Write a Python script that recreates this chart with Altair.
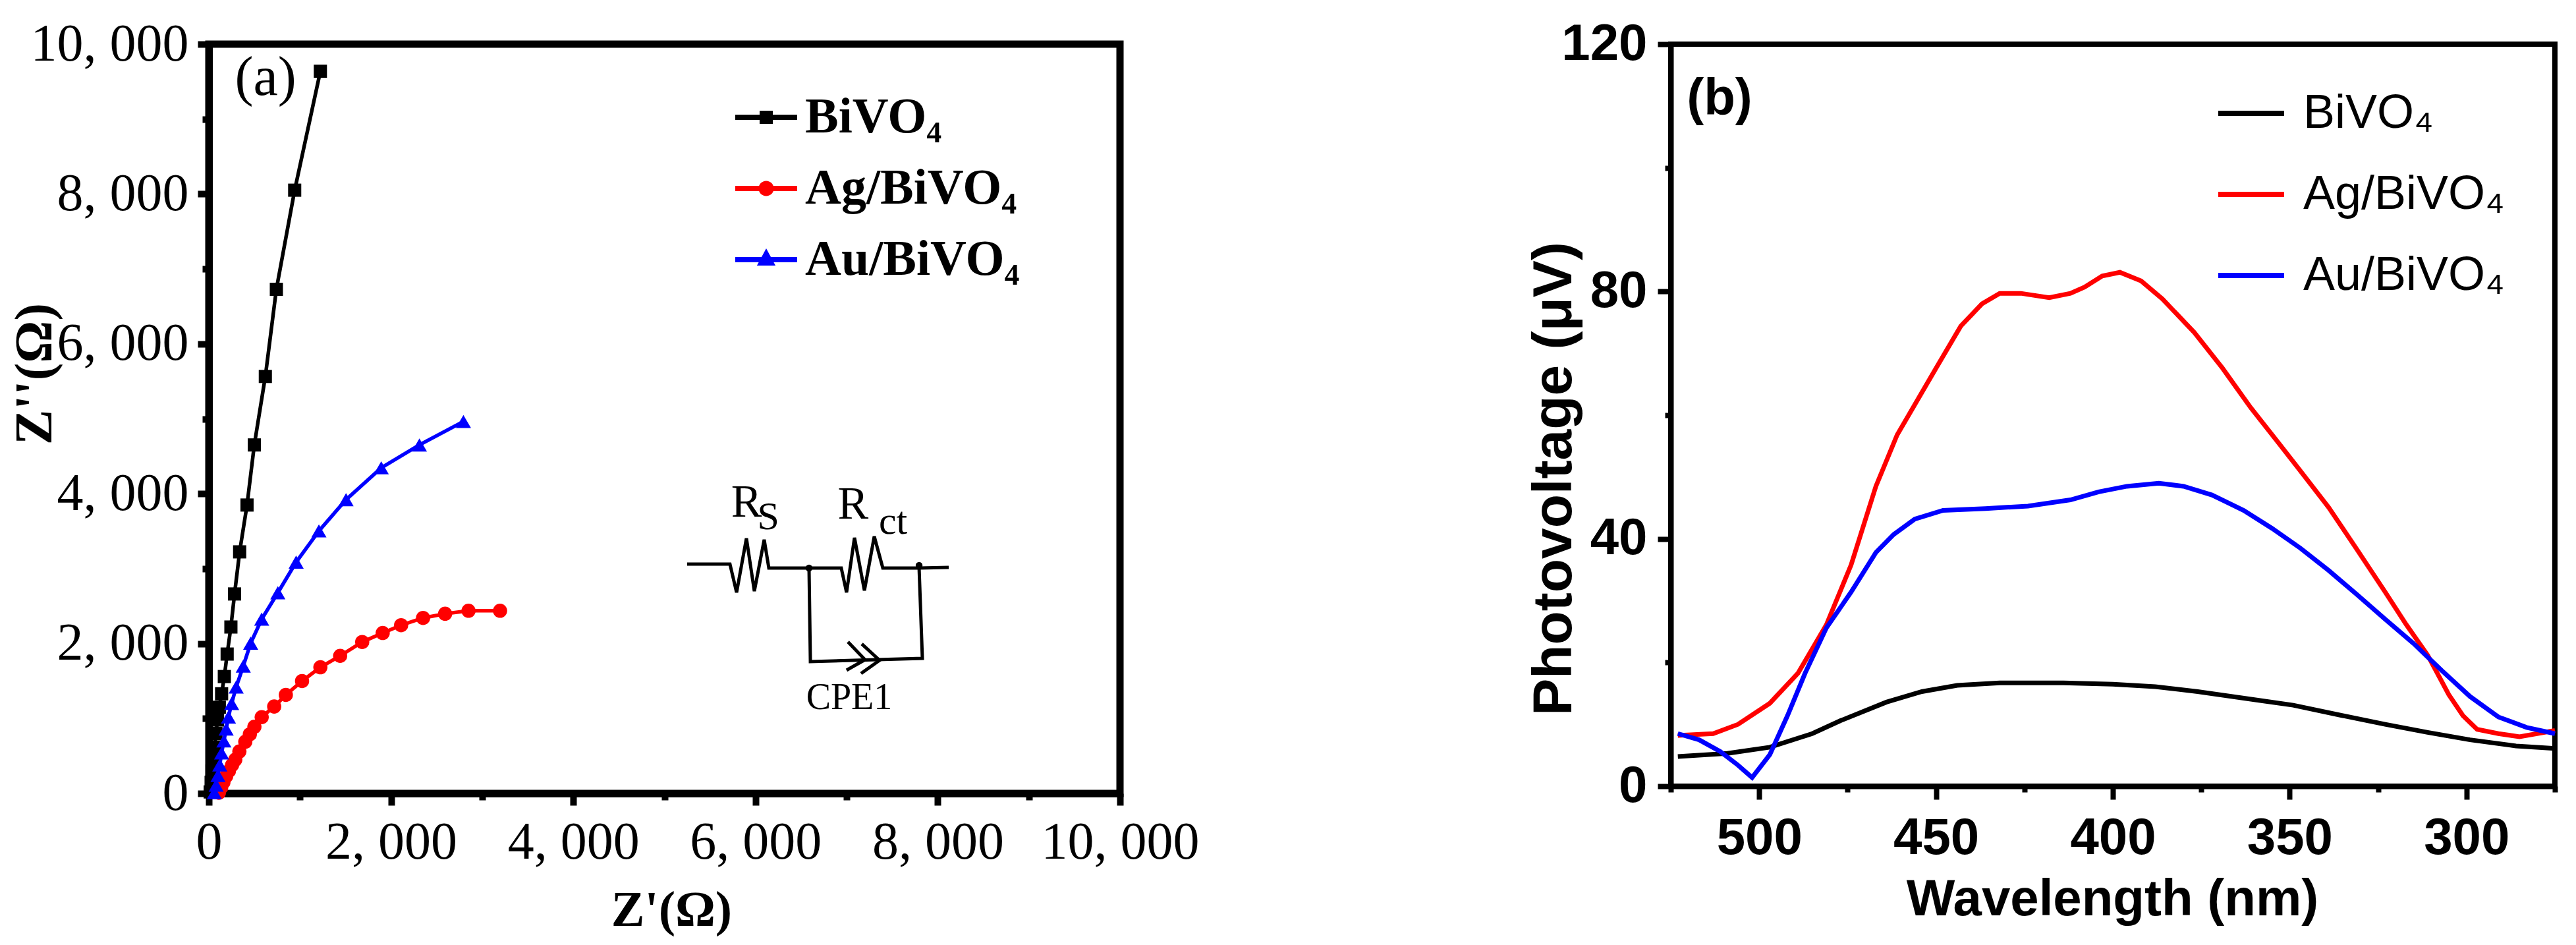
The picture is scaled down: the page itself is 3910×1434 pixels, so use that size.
import altair as alt
import pandas as pd

# ---------------- Panel (a): Nyquist plots (ohm) ----------------
series_names = ["BiVO₄", "Ag/BiVO₄", "Au/BiVO₄"]
series_colors = ["#000000", "#FF0000", "#0000FF"]

bivo4_zre = [15, 25, 35, 48, 62, 78, 95, 115, 140, 170, 201, 242, 282, 338, 419, 499, 620, 741, 942, 1224]
bivo4_zim = [20, 150, 300, 460, 620, 800, 980, 1150, 1330, 1560, 1860, 2221, 2662, 3224, 3849, 4651, 5565, 6728, 8051, 9639]

ag_zre = [110, 135, 160, 190, 220, 255, 290, 335, 400, 450, 500, 580, 717, 845, 1023, 1224, 1441, 1683, 1908, 2110, 2351, 2593, 2850, 3196]
ag_zim = [10, 80, 150, 230, 300, 380, 450, 560, 690, 790, 890, 1018, 1160, 1315, 1500, 1684, 1836, 2021, 2141, 2245, 2342, 2398, 2438, 2438]

au_zre = [60, 80, 100, 120, 140, 165, 190, 215, 250, 300, 378, 459, 580, 757, 958, 1208, 1506, 1892, 2311, 2794]
au_zim = [10, 110, 240, 380, 540, 700, 860, 1020, 1200, 1420, 1700, 2005, 2326, 2678, 3087, 3504, 3921, 4346, 4651, 4964]

x_ticks_a = list(range(0, 10001, 1000))
y_ticks_a = list(range(0, 10001, 1000))

# equivalent-circuit inset, drawn in data units (ohm)
circuit_part = ["main"] * 16 + ["branch"] * 4 + ["chev1"] * 3 + ["chev2"] * 3
circuit_x = [5249, 5719, 5792, 5900, 5987, 6095, 6146, 6587, 6941, 6999, 7086, 7195, 7303, 7397, 7795, 8120,
             6587, 6602, 7831, 7795,
             7014, 7202, 6999,
             7166, 7361, 7158]
circuit_y = [3061, 3061, 2683, 3404, 2700, 3386, 3008, 3008, 3008, 2683, 3412, 2709, 3430, 3008, 3008, 3017,
             3008, 1759, 1803, 3008,
             2023, 1785, 1645,
             1996, 1777, 1601]
node_x = [6587, 7795]
node_y = [3008, 3043]
circuit_text = ["R", "S", "R", "ct", "CPE1"]
circuit_text_x = [5900, 6140, 7070, 7510, 7028]
circuit_text_y = [3694, 3527, 3668, 3465, 1126]
circuit_text_size = [70, 60, 70, 60, 56]

# panel label positions (data units)
label_a = ["(a)"]
label_a_x = [285]
label_a_y = [9323]
label_b = ["(b)"]
label_b_x = [520.5]
label_b_y = [108.6]

# ---------------- Panel (b): surface photovoltage ----------------
bivo4_wl = [523, 509, 497, 485, 477, 464, 454, 444, 432, 414, 400, 388, 376, 359, 349, 335, 323, 311, 299, 286, 275]
bivo4_pv = [4.8, 5.3, 6.3, 8.5, 10.6, 13.6, 15.3, 16.3, 16.7, 16.7, 16.5, 16.1, 15.3, 13.9, 13.1, 11.4, 10.0, 8.7, 7.5, 6.5, 6.1]

ag_wl = [523, 513, 506, 497, 489, 481, 474, 467, 461, 456, 450, 443, 437, 432, 426, 418, 412, 408, 403, 398,
         392, 386, 377, 369, 361, 353, 347, 339, 331, 323, 317, 311, 305, 301, 297, 291, 285, 275]
ag_pv = [8.2, 8.5, 10.0, 13.4, 18.3, 26.1, 35.8, 48.5, 56.8, 61.7, 67.6, 74.4, 78.0, 79.7, 79.7, 79.0, 79.7, 80.7, 82.5, 83.1,
         81.7, 78.8, 73.4, 67.6, 61.2, 55.4, 51.0, 45.1, 38.3, 31.4, 26.1, 21.2, 14.8, 11.4, 9.2, 8.5, 8.0, 9.0]

au_wl = [523, 517, 511, 506, 502, 497, 492, 487, 481, 474, 467, 462, 456, 448, 436, 424, 412, 404, 396, 387,
         380, 372, 363, 355, 347, 339, 331, 323, 315, 307, 299, 291, 283, 275]
au_pv = [8.5, 7.5, 5.6, 3.4, 1.4, 5.1, 11.4, 18.3, 25.6, 31.4, 37.8, 40.7, 43.2, 44.6, 44.9, 45.3, 46.3, 47.6, 48.5, 49.0,
         48.5, 47.1, 44.6, 41.7, 38.5, 34.9, 31.0, 27.0, 23.1, 18.7, 14.5, 11.2, 9.5, 8.5]

x_ticks_b = list(range(275, 526, 25))
y_ticks_b = list(range(0, 121, 20))

# ---------------- tables ----------------
rows = []
for name, xs, ys in zip(series_names, [bivo4_zre, ag_zre, au_zre], [bivo4_zim, ag_zim, au_zim]):
    for i, (xv, yv) in enumerate(zip(xs, ys)):
        rows.append({"series": name, "zre": xv, "zim": yv, "seq": i})
df_a = pd.DataFrame(rows)

df_circ = pd.DataFrame({"part": circuit_part, "x": circuit_x, "y": circuit_y,
                        "seq": list(range(len(circuit_x)))})
df_nodes = pd.DataFrame({"x": node_x, "y": node_y})
df_ctext = pd.DataFrame({"t": circuit_text, "x": circuit_text_x, "y": circuit_text_y, "fs": circuit_text_size})
df_leg = pd.DataFrame({"series": series_names})
df_la = pd.DataFrame({"t": label_a, "x": label_a_x, "y": label_a_y})
df_lb = pd.DataFrame({"t": label_b, "x": label_b_x, "y": label_b_y})

rows = []
for name, xs, ys in zip(series_names, [bivo4_wl, ag_wl, au_wl], [bivo4_pv, ag_pv, au_pv]):
    for i, (xv, yv) in enumerate(zip(xs, ys)):
        rows.append({"series": name, "wl": xv, "pv": yv, "seq": i})
df_b = pd.DataFrame(rows)

SERIF = "Liberation Serif"
SANS = "Liberation Sans"

# ---------------- Panel (a) chart ----------------
color_a = alt.Color("series:N", scale=alt.Scale(domain=series_names, range=series_colors), legend=None)

xax_a = alt.Axis(
    values=x_ticks_a,
    labelExpr="datum.value % 2000 === 0 ? replace(format(datum.value, ','), ',', ', ') : ''",
    tickSize={"condition": {"test": "datum.value % 2000 === 0", "value": 18}, "value": 10},
    tickWidth=10, tickColor="black", domainColor="black", domainWidth=11, grid=False,
    labelFont=SERIF, labelFontSize=80, labelColor="black", labelPadding=17, labelLimit=600,
    labelFlush=False, labelOverlap=False,
    title="Z'(Ω)", titleFont=SERIF, titleFontSize=76, titleFontWeight="bold", titleColor="black",
    titleX=702, titleY=200, titleBaseline="alphabetic", titleAlign="center",
)
yax_a = alt.Axis(
    values=y_ticks_a,
    labelExpr="datum.value % 2000 === 0 ? replace(format(datum.value, ','), ',', ', ') : ''",
    tickSize={"condition": {"test": "datum.value % 2000 === 0", "value": 17}, "value": 10},
    tickWidth=10, tickColor="black", domainColor="black", domainWidth=11, grid=False,
    labelFont=SERIF, labelFontSize=80, labelColor="black", labelPadding=14, labelLimit=600,
    labelFlush=False, labelOverlap=False,
    title="Z''(Ω)", titleFont=SERIF, titleFontSize=80, titleFontWeight="bold", titleColor="black",
    titleX=-240, titleY=500, titleBaseline="alphabetic", titleAlign="center", titleAngle=-90,
)
xs_a = alt.Scale(domain=[0, 10000], nice=False, zero=False)
ys_a = alt.Scale(domain=[0, 10000], nice=False, zero=False)

base_a = alt.Chart(df_a).encode(
    x=alt.X("zre:Q", scale=xs_a, axis=xax_a),
    y=alt.Y("zim:Q", scale=ys_a, axis=yax_a),
    color=color_a,
)
lines_a = base_a.mark_line(strokeWidth=5.5).encode(order="seq:Q")
points_a = base_a.mark_point(filled=True, opacity=1).encode(
    shape=alt.Shape("series:N", scale=alt.Scale(domain=series_names, range=["square", "circle", "triangle-up"]), legend=None),
    size=alt.Size("series:N", scale=alt.Scale(domain=series_names, range=[400, 529, 650]), legend=None),
)

legend_paths = [
    "M-1,-0.085H1V0.085H-1Z M-0.213,-0.213H0.213V0.213H-0.213Z",
    "M-1,-0.085H1V0.085H-1Z M0.245,0A0.245,0.245,0,1,1,-0.245,0A0.245,0.245,0,1,1,0.245,0Z",
    "M-1,-0.085H1V0.085H-1Z M0,-0.36L0.3,0.19L-0.3,0.19Z",
]
leg_a_props = dict(orient="none", legendX=799, legendY=64, title=None,
                   symbolSize=8836, symbolStrokeWidth=0, symbolOpacity=1,
                   labelFont=SERIF, labelFontWeight="bold", labelFontSize=76,
                   labelColor="black", labelOffset=12, rowPadding=23, padding=0,
                   labelLimit=0)
legend_a = alt.Chart(df_leg).transform_filter("false").mark_point(filled=True, opacity=1).encode(
    color=alt.Color("series:N", scale=alt.Scale(domain=series_names, range=series_colors),
                    legend=alt.Legend(**leg_a_props)),
    shape=alt.Shape("series:N", scale=alt.Scale(domain=series_names, range=legend_paths),
                    legend=alt.Legend(**leg_a_props)),
)

circ_lines = alt.Chart(df_circ).mark_line(color="black", strokeWidth=5).encode(
    x=alt.X("x:Q", scale=xs_a), y=alt.Y("y:Q", scale=ys_a), detail="part:N", order="seq:Q")
circ_nodes = alt.Chart(df_nodes).mark_point(filled=True, color="black", size=110, opacity=1, shape="circle").encode(
    x=alt.X("x:Q", scale=xs_a), y=alt.Y("y:Q", scale=ys_a))
circ_text = alt.Chart(df_ctext).mark_text(font=SERIF, color="black", align="center", baseline="alphabetic").encode(
    x=alt.X("x:Q", scale=xs_a), y=alt.Y("y:Q", scale=ys_a), text="t:N",
    size=alt.Size("fs:Q", scale=None, legend=None))
panel_label_a = alt.Chart(df_la).mark_text(font=SERIF, fontSize=84, color="black", align="left",
                                           baseline="alphabetic").encode(
    x=alt.X("x:Q", scale=xs_a), y=alt.Y("y:Q", scale=ys_a), text="t:N")

panel_a = alt.layer(lines_a, points_a, circ_lines, circ_nodes, circ_text, panel_label_a, legend_a).resolve_scale(
    color="independent", shape="independent", size="independent"
).properties(
    width=1383, height=1137,
    view=alt.ViewBackground(stroke="black", strokeWidth=11, fill="white"),
)

# ---------------- Panel (b) chart ----------------
xs_b = alt.Scale(domain=[275, 525], reverse=True, nice=False, zero=False)
ys_b = alt.Scale(domain=[0, 120], nice=False, zero=False)
xax_b = alt.Axis(
    values=x_ticks_b,
    labelExpr="datum.value % 50 === 0 ? datum.label : ''",
    tickSize={"condition": {"test": "datum.value % 50 === 0", "value": 20}, "value": 9},
    tickWidth=8, tickColor="black", domainColor="black", domainWidth=8, grid=False,
    labelFont=SANS, labelFontWeight="bold", labelFontSize=78, labelColor="black", labelPadding=20,
    labelFlush=False, labelOverlap=False,
    title="Wavelength (nm)", titleFont=SANS, titleFontSize=78, titleFontWeight="bold", titleColor="black",
    titleX=670, titleY=195, titleBaseline="alphabetic", titleAlign="center",
)
yax_b = alt.Axis(
    values=y_ticks_b,
    labelExpr="datum.value % 40 === 0 ? datum.label : ''",
    tickSize={"condition": {"test": "datum.value % 40 === 0", "value": 20}, "value": 9},
    tickWidth=8, tickColor="black", domainColor="black", domainWidth=8, grid=False,
    labelFont=SANS, labelFontWeight="bold", labelFontSize=78, labelColor="black", labelPadding=16,
    labelFlush=False, labelOverlap=False,
    title="Photovoltage (μV)", titleFont=SANS, titleFontSize=84, titleFontWeight="bold", titleColor="black",
    titleX=-152, titleY=659, titleBaseline="alphabetic", titleAlign="center", titleAngle=-90,
)
lines_b = alt.Chart(df_b).mark_line(strokeWidth=7).encode(
    x=alt.X("wl:Q", scale=xs_b, axis=xax_b),
    y=alt.Y("pv:Q", scale=ys_b, axis=yax_b),
    color=alt.Color("series:N", scale=alt.Scale(domain=series_names, range=series_colors),
                    legend=alt.Legend(orient="none", legendX=827, legendY=51, title=None,
                                      symbolType="stroke", symbolSize=10000, symbolStrokeWidth=8,
                                      labelFont=SANS, labelFontSize=72, labelColor="black",
                                      labelOffset=25, rowPadding=33, padding=0, labelLimit=0)),
    order="seq:Q",
)
panel_label_b = alt.Chart(df_lb).mark_text(font=SANS, fontSize=78, fontWeight="bold", color="black",
                                           align="left", baseline="alphabetic").encode(
    x=alt.X("x:Q", scale=xs_b), y=alt.Y("y:Q", scale=ys_b), text="t:N")

panel_b = alt.layer(lines_b, panel_label_b).properties(
    width=1342, height=1126,
    view=alt.ViewBackground(stroke="black", strokeWidth=8, fill="white"),
)

chart = alt.hconcat(panel_a, panel_b, spacing=836, bounds="flush").resolve_scale(
    color="independent", shape="independent", size="independent"
).resolve_legend(
    color="independent", shape="independent", size="independent"
).properties(
    autosize=alt.AutoSizeParams(type="none"),
    padding={"left": 309, "top": 59, "right": 3585, "bottom": 1366},
    background="white",
)

chart.save("out.html", embed_options={"renderer": "svg", "actions": False})
